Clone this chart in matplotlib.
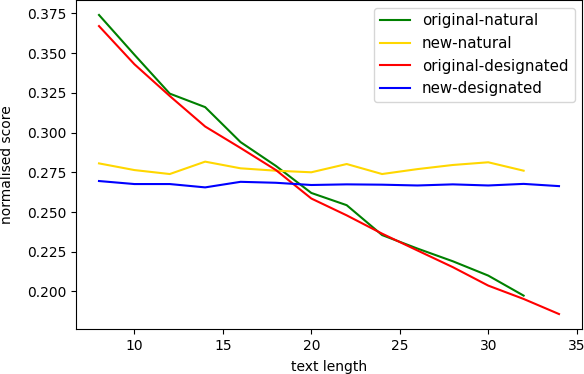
import matplotlib
matplotlib.use("Agg")
import matplotlib.pyplot as plt

# text lengths
lengths_natural = [8, 10, 12, 14, 16, 18, 20, 22, 24, 26, 28, 30, 32]
lengths_designated = [8, 10, 12, 14, 16, 18, 20, 22, 24, 26, 28, 30, 32, 34]

# normalised scores
original_natural = [0.374, 0.349, 0.3245, 0.316, 0.294, 0.279, 0.262, 0.2543,
                    0.2355, 0.227, 0.219, 0.210, 0.1974]
new_natural = [0.2806, 0.2764, 0.2739, 0.2817, 0.2775, 0.276, 0.275, 0.2802,
               0.2739, 0.277, 0.2796, 0.2813, 0.276]
original_designated = [0.367, 0.343, 0.323, 0.3038, 0.2903, 0.2764, 0.2585, 0.2479,
                       0.2364, 0.2258, 0.2153, 0.2037, 0.1953, 0.1858]
new_designated = [0.2695, 0.2676, 0.2676, 0.2655, 0.269, 0.2684, 0.267, 0.2674,
                  0.2672, 0.2667, 0.2674, 0.2667, 0.2677, 0.2663]

fig = plt.figure(figsize=(5.84, 3.74), dpi=100)
# the original figure is tightly cropped, top spine sits on the edge
ax = fig.add_axes([76 / 584, 45 / 374, 506 / 584, 329 / 374])

ax.plot(lengths_natural, original_natural, color="green", label="original-natural")
ax.plot(lengths_natural, new_natural, color="gold", label="new-natural")
ax.plot(lengths_designated, original_designated, color="red", label="original-designated")
ax.plot(lengths_designated, new_designated, color="blue", label="new-designated")

# keep the x label just inside the bottom edge
ax.set_xlabel("text length", labelpad=5)
ax.set_ylabel("normalised score", labelpad=9)
ax.legend(loc="upper right", fontsize=10.8)

fig.savefig("out.png", dpi=100)
